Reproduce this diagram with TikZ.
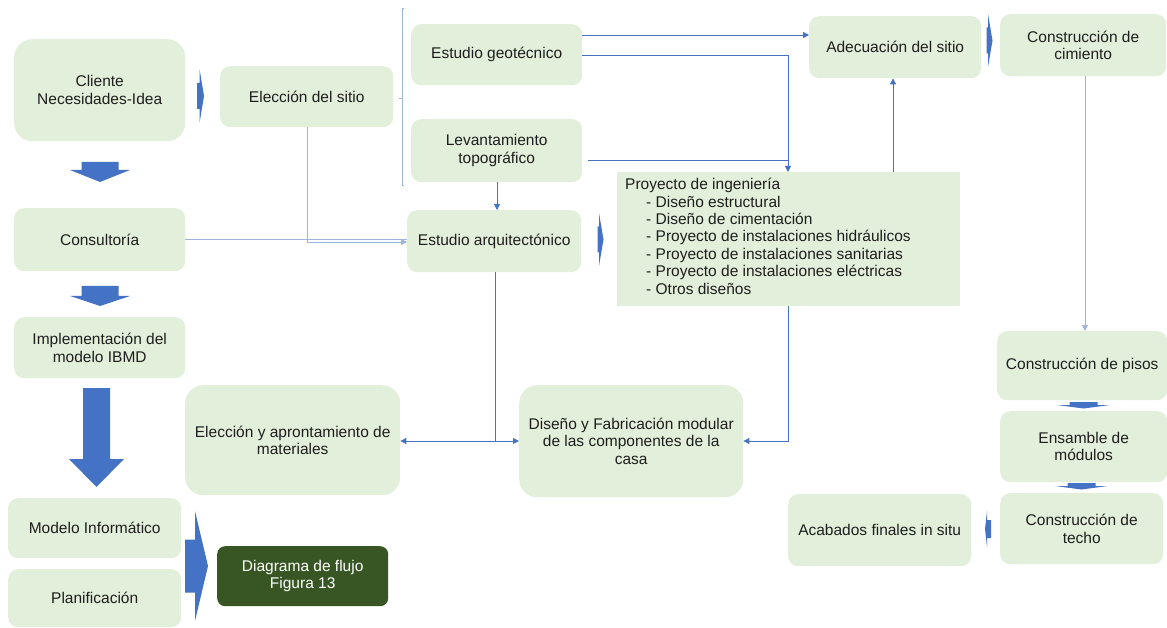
\documentclass[tikz,border=0pt]{standalone}
\usepackage{fontspec}
\setmainfont{Liberation Sans}
\usetikzlibrary{arrows.meta}
\definecolor{boxgreen}{HTML}{E2EFDA}
\definecolor{darkgreen}{HTML}{375623}
\definecolor{officeblue}{HTML}{4472C4}
\definecolor{paleblue}{HTML}{9DB3E0}
\definecolor{txt}{HTML}{1E1E1E}
\tikzset{
  box/.style={fill=boxgreen, rounded corners=10pt, anchor=north west, inner sep=0pt,
    align=center, text=txt, font=\fontsize{15.5}{17.5}\selectfont},
  bigbox/.style={box, rounded corners=18pt},
  conn/.style={officeblue, line width=0.9pt, -{Triangle[length=6pt,width=6pt]}},
  paleconn/.style={conn, draw=paleblue},
  plainconn/.style={officeblue, line width=0.9pt},
  blockarrow/.style={fill=officeblue},
}
% right-pointing block arrow: x0 x1 x2 ymid shaft-half head-half
\newcommand\blockright[6]{\fill[blockarrow] (#1,#4-#5) -- (#2,#4-#5) -- (#2,#4-#6) -- (#3,#4) -- (#2,#4+#6) -- (#2,#4+#5) -- (#1,#4+#5) -- cycle;}
% down-pointing block arrow: xmid y0 y1 y2 shaft-half head-half
\newcommand\blockdown[6]{\fill[blockarrow] (#1-#5,#2) -- (#1+#5,#2) -- (#1+#5,#3) -- (#1+#6,#3) -- (#1,#4) -- (#1-#6,#3) -- (#1-#5,#3) -- cycle;}
\begin{document}
\begin{tikzpicture}[x=1pt,y=-1pt]
\useasboundingbox (0,0) rectangle (1167,628);

% left column
\node[bigbox, minimum width=171pt, minimum height=102pt] (cliente) at (14,39) {Cliente\\Necesidades-Idea};
\node[box, minimum width=171pt, minimum height=63pt] (consult) at (14,208) {Consultoría};
\node[box, minimum width=171pt, minimum height=61pt] (impl) at (14,317) {Implementación del\\modelo IBMD};
\node[box, minimum width=173pt, minimum height=60pt] (modelo) at (8,498) {Modelo Informático};
\node[box, minimum width=173pt, minimum height=58pt] (plan) at (8,569) {Planificación};
\node[box, fill=darkgreen, text=white, rounded corners=8pt, minimum width=171pt, minimum height=60pt] (diag) at (217,546) {Diagrama de flujo\\Figura 13};

% site and studies
\node[box, minimum width=173pt, minimum height=61pt] (sitio) at (220,66) {Elección del sitio};
\node[box, minimum width=171pt, minimum height=61pt] (geo) at (411,24) {Estudio geotécnico};
\node[box, minimum width=171pt, minimum height=63pt] (topo) at (411,119) {Levantamiento\\topográfico};
\node[box, minimum width=174pt, minimum height=62pt] (arq) at (407,210) {Estudio arquitectónico};
\node[fill=boxgreen, anchor=north west, minimum width=343pt, minimum height=134pt, inner sep=0pt] (proy) at (617,172) {};
\node[anchor=north west, inner sep=0pt, align=left, text=txt, font=\fontsize{15.5}{17.4}\selectfont] (proytxt) at (625,178)
  {Proyecto de ingeniería\\
   \hspace*{21pt}- Diseño estructural\\
   \hspace*{21pt}- Diseño de cimentación\\
   \hspace*{21pt}- Proyecto de instalaciones hidráulicos\\
   \hspace*{21pt}- Proyecto de instalaciones sanitarias\\
   \hspace*{21pt}- Proyecto de instalaciones eléctricas\\
   \hspace*{21pt}- Otros diseños};

% construction branch
\node[bigbox, minimum width=215pt, minimum height=110pt] (mat) at (185,385) {Elección y aprontamiento de\\materiales};
\node[bigbox, minimum width=224pt, minimum height=112pt] (fab) at (519,385) {Diseño y Fabricación modular\\de las componentes de la\\casa};
\node[box, minimum width=172pt, minimum height=62pt] (adec) at (809,16) {Adecuación del sitio};
\node[box, minimum width=166pt, minimum height=62pt] (cim) at (1000,14) {Construcción de\\cimiento};
\node[box, minimum width=170pt, minimum height=69pt] (pisos) at (997,331) {Construcción de pisos};
\node[box, minimum width=167pt, minimum height=71pt] (ens) at (1000,411) {Ensamble de\\módulos};
\node[box, minimum width=163pt, minimum height=71pt] (techo) at (1000,493) {Construcción de\\techo};
\node[box, minimum width=183pt, minimum height=72pt] (acab) at (788,494) {Acabados finales in situ};

% bracket grouping the preliminary studies
\draw[paleblue, line width=0.8pt] (404,8) -- (402,8) -- (402,185) -- (404,185);
\draw[paleblue, line width=0.8pt] (402,98) -- (399,98);

% block arrows
\blockright{197}{199.5}{204}{96}{13}{27}
\blockright{986.5}{988}{992.5}{40.5}{13}{26.5}
\blockright{597.5}{599}{603.5}{239.5}{13}{26.5}
\fill[blockarrow] (991,520) -- (987,520) -- (987,511) -- (985,529) -- (987,547) -- (987,538) -- (991,538) -- cycle;
\blockright{185}{195}{208}{566}{26.5}{55}
\blockdown{100}{162}{170}{182}{18.5}{30}
\blockdown{100}{286}{296}{306}{18.5}{30}
\blockdown{96.5}{388}{459}{487}{13.5}{27.5}
\blockdown{1083.5}{402}{405}{408.5}{14}{26.5}
\blockdown{1081.5}{483}{486}{489.5}{14}{26.5}

% connectors
\coordinate (g1) at (788,55);
\coordinate (t1) at (788,160);
\coordinate (s1) at (307,242);
\coordinate (a1) at (495,441);
\coordinate (p1) at (788,441);
\draw[conn] (geo.east |- 0,35) -- (adec.west |- 0,35);
\draw[conn] (geo.east |- g1) -- (g1) -- (proy.north -| g1);
\draw[plainconn] (588,160) -- (t1);
\draw[conn] (topo.south -| 497,0) -- (arq.north -| 497,0);
\draw[paleconn] (sitio.south -| s1) -- (s1) -- (arq.west |- s1);
\draw[paleconn, -] (consult.east) -- (arq.west |- consult.east);
\draw[conn] (proy.north -| 893,0) -- (adec.south -| 893,0);
\draw[conn] (proy.south -| p1) -- (p1) -- (fab.east |- p1);
\draw[plainconn] (arq.south -| a1) -- (a1);
\draw[conn, {Triangle[length=6pt,width=6pt]}-{Triangle[length=6pt,width=6pt]}] (mat.east |- a1) -- (fab.west |- a1);
\draw[paleconn] (cim.south -| 1085,0) -- (pisos.north -| 1085,0);
\end{tikzpicture}
\end{document}
